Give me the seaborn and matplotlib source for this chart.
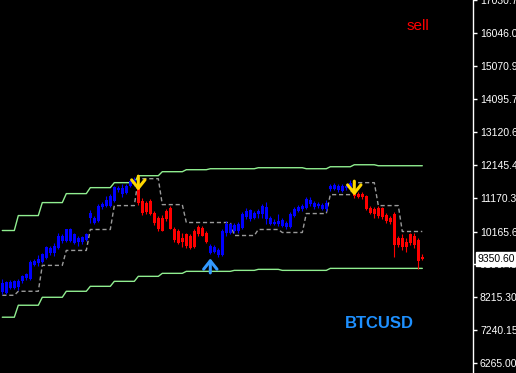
import numpy as np
import pandas as pd
import matplotlib
matplotlib.use("Agg")
import matplotlib.pyplot as plt
import seaborn as sns
from matplotlib.transforms import blended_transform_factory

# ---------------- data ----------------
opens = [8363, 8334, 8481, 8481, 8511, 8688, 8777, 8747, 9161, 9220,
         9250, 9368, 9516, 9516, 9663, 9870, 9870, 9870, 9811, 9841,
         9841, 9900, 10579, 10432, 10491, 10904, 10934, 10934, 11082, 11407,
         11289, 11318, 11525, 11584, 11554, 11082, 11023, 11082, 10727, 10579,
         10579, 10786, 10875, 10254, 10195, 9959, 10077, 10018, 10195, 10313,
         10284, 10107, 9516, 9545, 9456, 9456, 10107, 10136, 10166, 10195,
         10284, 10609, 10550, 10579, 10698, 10698, 10550, 10402, 10402, 10402,
         10343, 10313, 10313, 10638, 10786, 10845, 10875, 10993, 10904, 10934,
         10845, 10845, 11436, 11436, 11407, 11377, 11466, 11436, 11377, 11289,
         11289, 11229, 10875, 10845, 10875, 10875, 10668, 10579, 10698, 9959,
         9959, 9841, 10077, 10047, 9900, 9397]
highs = [8747, 8688, 8718, 8718, 8747, 8865, 8925, 9309, 9338, 9456,
         9516, 9722, 9722, 9811, 10107, 10077, 10254, 10284, 10136, 10047,
         10018, 10136, 10816, 10638, 10993, 11052, 11229, 11289, 11525, 11525,
         11584, 11584, 11732, 11791, 11673, 11170, 11082, 11141, 10786, 10638,
         10668, 10845, 10934, 10313, 10254, 10107, 10136, 10077, 10225, 10372,
         10343, 10166, 9781, 9752, 9663, 10225, 10491, 10432, 10432, 10461,
         10757, 10875, 10845, 10786, 10845, 10993, 11052, 10638, 10550, 10698,
         10579, 10491, 10757, 10904, 10963, 10993, 11200, 11200, 11082, 11052,
         11023, 11111, 11584, 11614, 11584, 11584, 11584, 11702, 11436, 11348,
         11348, 11259, 10934, 10904, 10934, 10904, 10727, 10638, 10757, 10018,
         10077, 9959, 10136, 10107, 9959, 9486]
lows = [8304, 8304, 8452, 8452, 8422, 8629, 8718, 8718, 9131, 9131,
        9220, 9338, 9456, 9427, 9634, 9811, 9841, 9841, 9781, 9722,
        9781, 9870, 10432, 10402, 10461, 10845, 10904, 10904, 11052, 11348,
        11200, 11289, 11495, 11525, 10963, 10668, 10698, 10668, 10372, 10195,
        10166, 10491, 10225, 9841, 9781, 9693, 9663, 9634, 9663, 10018,
        10018, 9811, 9486, 9516, 9397, 9427, 10047, 10077, 10136, 10136,
        10254, 10550, 10491, 10550, 10579, 10579, 10402, 10372, 10372, 10343,
        10313, 10254, 10284, 10609, 10757, 10786, 10845, 10934, 10845, 10875,
        10816, 10786, 11377, 11407, 11348, 11348, 11407, 11407, 11170, 11170,
        11141, 10816, 10698, 10579, 10579, 10550, 10432, 10402, 9397, 9693,
        9604, 9545, 9752, 9663, 9043, 9309]
closes = [8629, 8659, 8659, 8688, 8688, 8836, 8895, 9250, 9279, 9338,
          9486, 9693, 9663, 9722, 10047, 10047, 10225, 10254, 10077, 9959,
          9988, 10077, 10727, 10579, 10934, 10993, 11111, 11229, 11495, 11466,
          11466, 11525, 11673, 11702, 11023, 10727, 10757, 10698, 10432, 10254,
          10195, 10550, 10254, 9900, 9811, 9841, 9722, 9663, 9693, 10077,
          10047, 9841, 9722, 9693, 9604, 10195, 10402, 10402, 10372, 10402,
          10698, 10786, 10816, 10727, 10786, 10934, 10904, 10579, 10461, 10491,
          10520, 10432, 10698, 10845, 10904, 10934, 11141, 11111, 11023, 10993,
          10963, 11023, 11525, 11554, 11525, 11525, 11525, 11614, 11229, 11200,
          11200, 10845, 10727, 10698, 10638, 10609, 10491, 10461, 9752, 9752,
          9693, 9693, 9811, 9752, 9279, 9350.6]
# trend colouring of each bar: B = up (blue), R = down (red)
trend = ("BBBBBBBBBBBBBBBBBBBBBBBBBBBBBBBBBB"
         "RRRRRRRRRRRRRRRRRR"
         "BBBBBBBBBBBBBBBBBBBBBBBBBBBBBBBBBBBB"
         "RRRRRRRRRRRRRRRRRR")
# trailing stop (grey dashed line)
stop_line = [8274, 8274, 8274, 8274,
             8393, 8393, 8393, 8393, 8393, 8393,
             9161, 9161, 9161, 9161, 9161, 9161,
             9604, 9604, 9604, 9604, 9604, 9604,
             10225, 10225, 10225, 10225, 10225, 10225,
             10934, 10934, 10934, 10934, 10934, 10934,
             11732, 11732, 11732, 11732, 11732, 11732,
             10963, 10963, 10963, 10963, 10963, 10963,
             10432, 10432, 10432, 10432, 10432, 10432,
             10432, 10432, 10432, 10432, 10432, 10432,
             10047, 10047, 10047, 10047, 10047, 10047,
             10225, 10225, 10225, 10225, 10225, 10225,
             10136, 10136, 10136, 10136, 10136, 10136,
             10698, 10698, 10698, 10698, 10698, 10698,
             11259, 11259, 11259, 11259, 11259, 11259,
             11614, 11614, 11614, 11614, 11614, 11614,
             10934, 10934, 10934, 10934, 10934, 10934,
             10166, 10166, 10166, 10166, 10166, 10166]
# upper and lower bands (light green)
upper_band = [10195, 10195, 10195, 10195,
              10638, 10638, 10638, 10638, 10638, 10638,
              11023, 11023, 11023, 11023, 11023, 11023,
              11289, 11289, 11289, 11289, 11289, 11289,
              11466, 11466, 11466, 11466, 11466, 11466,
              11614, 11614, 11614, 11614, 11614, 11614,
              11820, 11820, 11820, 11820, 11820, 11820,
              11939, 11939, 11939, 11939, 11939, 11939,
              11998, 11998, 11998, 11998, 11998, 11998,
              12027, 12027, 12027, 12027, 12027, 12027,
              12027, 12027, 12027, 12027, 12027, 12027,
              12057, 12057, 12057, 12057, 12057, 12057,
              12057, 12057, 12057, 12057, 12057, 12057,
              12027, 12027, 12027, 12027, 12027, 12027,
              12086, 12086, 12086, 12086, 12086, 12086,
              12145, 12145, 12145, 12145, 12145, 12145,
              12116, 12116, 12116, 12116, 12116, 12116,
              12116, 12116, 12116, 12116, 12116, 12116]
lower_band = [7624, 7624, 7624, 7624,
              7979, 7979, 7979, 7979, 7979, 7979,
              8215, 8215, 8215, 8215, 8215, 8215,
              8393, 8393, 8393, 8393, 8393, 8393,
              8540, 8540, 8540, 8540, 8540, 8540,
              8688, 8688, 8688, 8688, 8688, 8688,
              8836, 8836, 8836, 8836, 8836, 8836,
              8925, 8925, 8925, 8925, 8925, 8925,
              8984, 8984, 8984, 8984, 8984, 8984,
              8984, 8984, 8984, 8984, 8984, 8984,
              9013, 9013, 9013, 9013, 9013, 9013,
              9043, 9043, 9043, 9043, 9043, 9043,
              9013, 9013, 9013, 9013, 9013, 9013,
              9013, 9013, 9013, 9013, 9013, 9013,
              9072, 9072, 9072, 9072, 9072, 9072,
              9072, 9072, 9072, 9072, 9072, 9072,
              9072, 9072, 9072, 9072, 9072, 9072,
              9072, 9072, 9072, 9072, 9072, 9072]
# signal arrows: bar index and arrow-tip price
sell_bars = [34, 88]
sell_tips = [11377, 11229]
buy_bars = [52]
buy_tips = [9368]

tick_labels = ["6265.00", "7240.15", "8215.30", "9190.45", "10165.60",
               "11170.30", "12145.45", "13120.60", "14095.75", "15070.90",
               "16046.05", "17030.75"]
last_price = "9350.60"
symbol = "BTCUSD"
signal_text = "sell"

# ---------------- drawing ----------------
sns.set_theme(style="dark")
plt.rcParams["font.family"] = ["Liberation Sans", "DejaVu Sans"]
plt.rcParams["figure.facecolor"] = "black"
plt.rcParams["axes.facecolor"] = "black"

W, H = 516, 373
fig = plt.figure(figsize=(W / 100, H / 100), dpi=100)
ax = fig.add_axes([0, 0, 473 / W, 1])
ax.set_facecolor("black")

df = pd.DataFrame({
    "bar": np.arange(len(opens)),
    "open": opens, "high": highs, "low": lows, "close": closes,
    "trend": list(trend),
    "stop": stop_line, "upper": upper_band, "lower": lower_band,
})
palette = {"B": "#0000FF", "R": "#FF0000"}
df["color"] = df["trend"].map(palette)

# bands and stop line (seaborn)
sns.lineplot(data=df, x="bar", y="upper", ax=ax, color="#90EE90",
             linewidth=1.0, estimator=None, zorder=1)
sns.lineplot(data=df, x="bar", y="lower", ax=ax, color="#90EE90",
             linewidth=1.0, estimator=None, zorder=1)
sns.lineplot(data=df, x="bar", y="stop", ax=ax, color="#9a9a9a",
             linewidth=1.0, estimator=None, zorder=1)
ax.lines[-1].set_dashes((3, 2))

# candles
body_lo = np.minimum(df["open"], df["close"])
body_hi = np.maximum(df["open"], df["close"])
ax.vlines(df["bar"], df["low"], df["high"], colors=df["color"],
          linewidth=0.8, zorder=2)
ax.bar(df["bar"], np.maximum(body_hi - body_lo, 30), bottom=body_lo,
       width=0.8, color=df["color"], linewidth=0, zorder=3)

# arrows
arrow_len = 430
for b, tip in zip(sell_bars, sell_tips):
    ax.annotate("", xy=(b, tip), xytext=(b, tip + arrow_len),
                arrowprops=dict(arrowstyle="->,head_length=0.5,head_width=0.4",
                                color="#FFD700", lw=2.2, shrinkA=0, shrinkB=0),
                zorder=5)
for b, tip in zip(buy_bars, buy_tips):
    ax.annotate("", xy=(b, tip), xytext=(b, tip - arrow_len),
                arrowprops=dict(arrowstyle="->,head_length=0.5,head_width=0.4",
                                color="#3399FF", lw=2.2, shrinkA=0, shrinkB=0),
                zorder=5)

# scales
px_per_bar = 4.0
x0 = -0.575
ax.set_xlim(x0, x0 + 473 / px_per_bar)
ax.set_ylim(5969.5, 16991.65)
ax.set_xlabel("")
ax.set_ylabel("")
ax.grid(False)
ax.set_xticks([])

ax.yaxis.tick_right()
ax.set_yticks([float(t) for t in tick_labels])
ax.set_yticklabels(tick_labels)
ax.tick_params(axis="y", which="major", right=True, left=False,
               labelright=True, labelleft=False, direction="out",
               length=3, width=1, color="white", labelcolor="white",
               pad=2, labelsize=7.5)
for s in ["left", "top", "bottom"]:
    ax.spines[s].set_visible(False)
ax.spines["right"].set_visible(True)
ax.spines["right"].set_color("white")
ax.spines["right"].set_linewidth(1.0)

# last price box
trans = blended_transform_factory(ax.transAxes, ax.transData)
ax.text(1 + 5 / 473, closes[-1], last_price, transform=trans, color="black",
        fontsize=7.5, ha="left", va="center", clip_on=False, zorder=10,
        bbox=dict(boxstyle="square,pad=0.2", fc="white", ec="white"))

# texts
fig.text(407 / W, 1 - 25.5 / H, signal_text, color="#FF0000", fontsize=11,
         ha="left", va="center")
fig.text(345 / W, 1 - 323 / H, symbol, color="#1E90FF", fontsize=12,
         fontweight="bold", ha="left", va="center")

fig.savefig("out.png", dpi=100, facecolor="black")
